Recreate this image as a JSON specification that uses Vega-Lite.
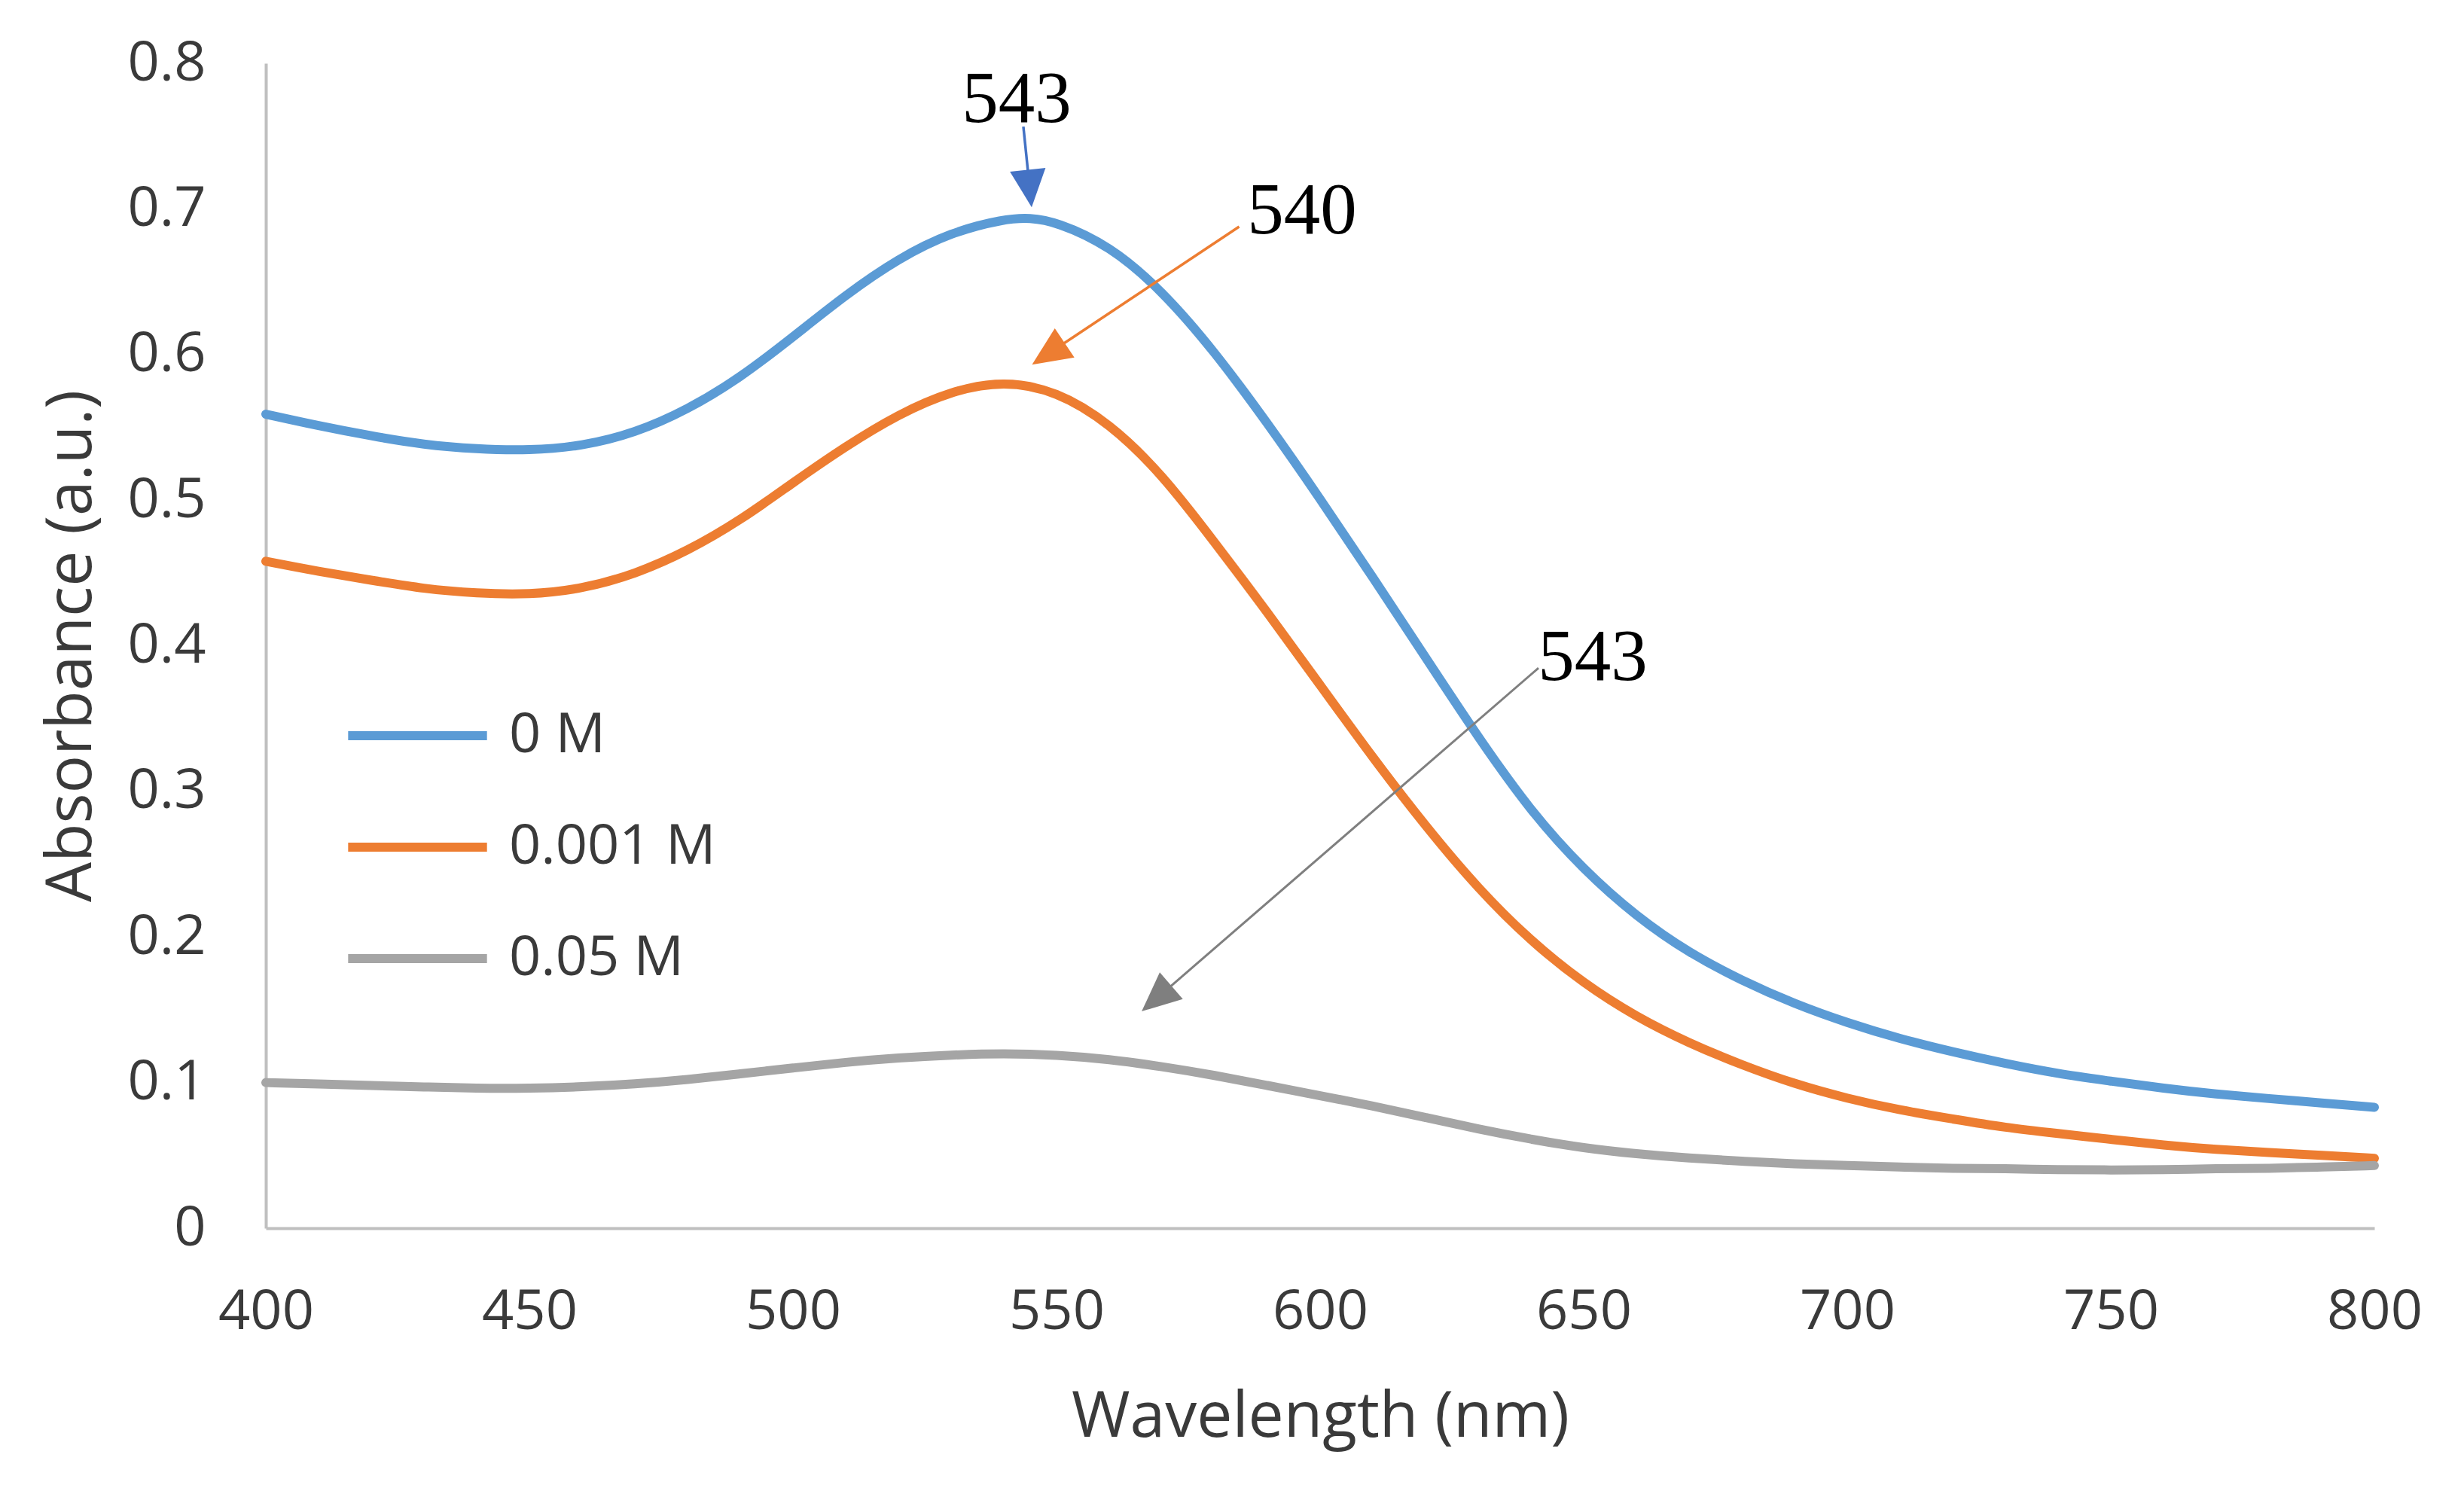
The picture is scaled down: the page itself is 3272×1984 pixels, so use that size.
{
  "$schema": "https://vega.github.io/schema/vega-lite/v6.json",
  "width": 2800,
  "height": 1547,
  "autosize": {"type": "none"},
  "padding": {"left": 353, "top": 84, "right": 119, "bottom": 353},
  "background": "white",
  "config": {
    "view": {"stroke": null},
    "font": "Open Sans",
    "axis": {
      "domainColor": "#bfbfbf",
      "domainWidth": 4,
      "ticks": false,
      "tickSize": 0,
      "grid": false,
      "labelFont": "Open Sans",
      "labelFontSize": 74,
      "labelColor": "#3a3a3a",
      "titleFont": "Open Sans",
      "titleFontSize": 84,
      "titleFontWeight": "normal",
      "titleColor": "#3a3a3a"
    }
  },
  "layer": [
    {
      "data": {
        "values": [
          {"wavelength": 400, "absorbance": 0.559, "series": "0 M"},
          {"wavelength": 410, "absorbance": 0.551, "series": "0 M"},
          {"wavelength": 420, "absorbance": 0.544, "series": "0 M"},
          {"wavelength": 430, "absorbance": 0.538, "series": "0 M"},
          {"wavelength": 440, "absorbance": 0.535, "series": "0 M"},
          {"wavelength": 450, "absorbance": 0.534, "series": "0 M"},
          {"wavelength": 460, "absorbance": 0.537, "series": "0 M"},
          {"wavelength": 470, "absorbance": 0.546, "series": "0 M"},
          {"wavelength": 480, "absorbance": 0.562, "series": "0 M"},
          {"wavelength": 490, "absorbance": 0.584, "series": "0 M"},
          {"wavelength": 500, "absorbance": 0.612, "series": "0 M"},
          {"wavelength": 510, "absorbance": 0.641, "series": "0 M"},
          {"wavelength": 520, "absorbance": 0.666, "series": "0 M"},
          {"wavelength": 530, "absorbance": 0.684, "series": "0 M"},
          {"wavelength": 540, "absorbance": 0.693, "series": "0 M"},
          {"wavelength": 545, "absorbance": 0.694, "series": "0 M"},
          {"wavelength": 550, "absorbance": 0.691, "series": "0 M"},
          {"wavelength": 560, "absorbance": 0.675, "series": "0 M"},
          {"wavelength": 570, "absorbance": 0.644, "series": "0 M"},
          {"wavelength": 580, "absorbance": 0.602, "series": "0 M"},
          {"wavelength": 590, "absorbance": 0.553, "series": "0 M"},
          {"wavelength": 600, "absorbance": 0.501, "series": "0 M"},
          {"wavelength": 610, "absorbance": 0.447, "series": "0 M"},
          {"wavelength": 620, "absorbance": 0.392, "series": "0 M"},
          {"wavelength": 630, "absorbance": 0.337, "series": "0 M"},
          {"wavelength": 640, "absorbance": 0.286, "series": "0 M"},
          {"wavelength": 650, "absorbance": 0.246, "series": "0 M"},
          {"wavelength": 660, "absorbance": 0.214, "series": "0 M"},
          {"wavelength": 670, "absorbance": 0.189, "series": "0 M"},
          {"wavelength": 680, "absorbance": 0.17, "series": "0 M"},
          {"wavelength": 690, "absorbance": 0.154, "series": "0 M"},
          {"wavelength": 700, "absorbance": 0.141, "series": "0 M"},
          {"wavelength": 710, "absorbance": 0.13, "series": "0 M"},
          {"wavelength": 720, "absorbance": 0.121, "series": "0 M"},
          {"wavelength": 730, "absorbance": 0.113, "series": "0 M"},
          {"wavelength": 740, "absorbance": 0.106, "series": "0 M"},
          {"wavelength": 750, "absorbance": 0.101, "series": "0 M"},
          {"wavelength": 760, "absorbance": 0.096, "series": "0 M"},
          {"wavelength": 770, "absorbance": 0.092, "series": "0 M"},
          {"wavelength": 780, "absorbance": 0.089, "series": "0 M"},
          {"wavelength": 790, "absorbance": 0.086, "series": "0 M"},
          {"wavelength": 800, "absorbance": 0.083, "series": "0 M"},
          {"wavelength": 400, "absorbance": 0.458, "series": "0.001 M"},
          {"wavelength": 410, "absorbance": 0.451, "series": "0.001 M"},
          {"wavelength": 420, "absorbance": 0.445, "series": "0.001 M"},
          {"wavelength": 430, "absorbance": 0.439, "series": "0.001 M"},
          {"wavelength": 440, "absorbance": 0.436, "series": "0.001 M"},
          {"wavelength": 450, "absorbance": 0.435, "series": "0.001 M"},
          {"wavelength": 460, "absorbance": 0.439, "series": "0.001 M"},
          {"wavelength": 470, "absorbance": 0.449, "series": "0.001 M"},
          {"wavelength": 480, "absorbance": 0.465, "series": "0.001 M"},
          {"wavelength": 490, "absorbance": 0.486, "series": "0.001 M"},
          {"wavelength": 500, "absorbance": 0.512, "series": "0.001 M"},
          {"wavelength": 510, "absorbance": 0.537, "series": "0.001 M"},
          {"wavelength": 520, "absorbance": 0.559, "series": "0.001 M"},
          {"wavelength": 530, "absorbance": 0.575, "series": "0.001 M"},
          {"wavelength": 540, "absorbance": 0.582, "series": "0.001 M"},
          {"wavelength": 550, "absorbance": 0.575, "series": "0.001 M"},
          {"wavelength": 560, "absorbance": 0.553, "series": "0.001 M"},
          {"wavelength": 570, "absorbance": 0.518, "series": "0.001 M"},
          {"wavelength": 580, "absorbance": 0.471, "series": "0.001 M"},
          {"wavelength": 590, "absorbance": 0.423, "series": "0.001 M"},
          {"wavelength": 600, "absorbance": 0.373, "series": "0.001 M"},
          {"wavelength": 610, "absorbance": 0.323, "series": "0.001 M"},
          {"wavelength": 620, "absorbance": 0.276, "series": "0.001 M"},
          {"wavelength": 630, "absorbance": 0.233, "series": "0.001 M"},
          {"wavelength": 640, "absorbance": 0.197, "series": "0.001 M"},
          {"wavelength": 650, "absorbance": 0.168, "series": "0.001 M"},
          {"wavelength": 660, "absorbance": 0.145, "series": "0.001 M"},
          {"wavelength": 670, "absorbance": 0.127, "series": "0.001 M"},
          {"wavelength": 680, "absorbance": 0.112, "series": "0.001 M"},
          {"wavelength": 690, "absorbance": 0.099, "series": "0.001 M"},
          {"wavelength": 700, "absorbance": 0.089, "series": "0.001 M"},
          {"wavelength": 710, "absorbance": 0.081, "series": "0.001 M"},
          {"wavelength": 720, "absorbance": 0.075, "series": "0.001 M"},
          {"wavelength": 730, "absorbance": 0.069, "series": "0.001 M"},
          {"wavelength": 740, "absorbance": 0.065, "series": "0.001 M"},
          {"wavelength": 750, "absorbance": 0.061, "series": "0.001 M"},
          {"wavelength": 760, "absorbance": 0.057, "series": "0.001 M"},
          {"wavelength": 770, "absorbance": 0.054, "series": "0.001 M"},
          {"wavelength": 780, "absorbance": 0.052, "series": "0.001 M"},
          {"wavelength": 790, "absorbance": 0.05, "series": "0.001 M"},
          {"wavelength": 800, "absorbance": 0.048, "series": "0.001 M"},
          {"wavelength": 400, "absorbance": 0.1, "series": "0.05 M"},
          {"wavelength": 410, "absorbance": 0.099, "series": "0.05 M"},
          {"wavelength": 420, "absorbance": 0.098, "series": "0.05 M"},
          {"wavelength": 430, "absorbance": 0.097, "series": "0.05 M"},
          {"wavelength": 440, "absorbance": 0.096, "series": "0.05 M"},
          {"wavelength": 450, "absorbance": 0.096, "series": "0.05 M"},
          {"wavelength": 460, "absorbance": 0.097, "series": "0.05 M"},
          {"wavelength": 470, "absorbance": 0.099, "series": "0.05 M"},
          {"wavelength": 480, "absorbance": 0.102, "series": "0.05 M"},
          {"wavelength": 490, "absorbance": 0.106, "series": "0.05 M"},
          {"wavelength": 500, "absorbance": 0.11, "series": "0.05 M"},
          {"wavelength": 510, "absorbance": 0.114, "series": "0.05 M"},
          {"wavelength": 520, "absorbance": 0.117, "series": "0.05 M"},
          {"wavelength": 530, "absorbance": 0.119, "series": "0.05 M"},
          {"wavelength": 540, "absorbance": 0.12, "series": "0.05 M"},
          {"wavelength": 550, "absorbance": 0.119, "series": "0.05 M"},
          {"wavelength": 560, "absorbance": 0.116, "series": "0.05 M"},
          {"wavelength": 570, "absorbance": 0.111, "series": "0.05 M"},
          {"wavelength": 580, "absorbance": 0.105, "series": "0.05 M"},
          {"wavelength": 590, "absorbance": 0.098, "series": "0.05 M"},
          {"wavelength": 600, "absorbance": 0.091, "series": "0.05 M"},
          {"wavelength": 610, "absorbance": 0.084, "series": "0.05 M"},
          {"wavelength": 620, "absorbance": 0.076, "series": "0.05 M"},
          {"wavelength": 630, "absorbance": 0.068, "series": "0.05 M"},
          {"wavelength": 640, "absorbance": 0.061, "series": "0.05 M"},
          {"wavelength": 650, "absorbance": 0.055, "series": "0.05 M"},
          {"wavelength": 660, "absorbance": 0.051, "series": "0.05 M"},
          {"wavelength": 670, "absorbance": 0.048, "series": "0.05 M"},
          {"wavelength": 680, "absorbance": 0.046, "series": "0.05 M"},
          {"wavelength": 690, "absorbance": 0.044, "series": "0.05 M"},
          {"wavelength": 700, "absorbance": 0.043, "series": "0.05 M"},
          {"wavelength": 710, "absorbance": 0.042, "series": "0.05 M"},
          {"wavelength": 720, "absorbance": 0.041, "series": "0.05 M"},
          {"wavelength": 730, "absorbance": 0.041, "series": "0.05 M"},
          {"wavelength": 740, "absorbance": 0.04, "series": "0.05 M"},
          {"wavelength": 750, "absorbance": 0.04, "series": "0.05 M"},
          {"wavelength": 760, "absorbance": 0.04, "series": "0.05 M"},
          {"wavelength": 770, "absorbance": 0.041, "series": "0.05 M"},
          {"wavelength": 780, "absorbance": 0.041, "series": "0.05 M"},
          {"wavelength": 790, "absorbance": 0.042, "series": "0.05 M"},
          {"wavelength": 800, "absorbance": 0.043, "series": "0.05 M"}
        ]
      },
      "mark": {"type": "line", "interpolate": "basis", "strokeWidth": 12, "strokeCap": "round", "strokeJoin": "round"},
      "encoding": {
        "x": {
          "field": "wavelength", "type": "quantitative",
          "scale": {"domain": [400, 800], "nice": false, "zero": false},
          "axis": {"values": [400, 450, 500, 550, 600, 650, 700, 750, 800], "labelPadding": 75, "titlePadding": 62, "labelFlush": false},
          "title": "Wavelength (nm)"
        },
        "y": {
          "field": "absorbance", "type": "quantitative",
          "scale": {"domain": [0, 0.8], "nice": false},
          "axis": {"values": [0, 0.1, 0.2, 0.3, 0.4, 0.5, 0.6, 0.7, 0.8], "format": ".1~f", "labelPadding": 80, "titlePadding": 30, "labelFlush": false},
          "title": "Absorbance (a.u.)"
        },
        "color": {
          "field": "series", "type": "nominal",
          "scale": {"domain": ["0 M", "0.001 M", "0.05 M"], "range": ["#5B9BD5", "#ED7D31", "#A5A5A5"]},
          "legend": {
            "title": null,
            "orient": "none",
            "legendX": 103,
            "legendY": 853,
            "padding": 0,
            "symbolType": "stroke",
            "symbolSize": 34000,
            "symbolStrokeWidth": 12,
            "clipHeight": 80,
            "rowPadding": 68,
            "labelOffset": 23,
            "labelFont": "Open Sans",
            "labelFontSize": 74,
            "labelColor": "#3a3a3a",
            "labelLimit": 0
          }
        }
      }
    },
    {
      "data": {"values": [{"wavelength": 543.71, "absorbance": 0.7565, "wavelength2": 544.91, "absorbance2": 0.714}]},
      "mark": {"type": "rule", "color": "#4472C4", "strokeWidth": 3.5},
      "encoding": {
        "x": {"field": "wavelength", "type": "quantitative", "title": "Wavelength (nm)"},
        "y": {"field": "absorbance", "type": "quantitative", "title": "Absorbance (a.u.)"},
        "x2": {"field": "wavelength2"},
        "y2": {"field": "absorbance2"}
      }
    },
    {
      "data": {"values": [{"wavelength": 584.64, "absorbance": 0.6878, "wavelength2": 548.44, "absorbance2": 0.6005}]},
      "mark": {"type": "rule", "color": "#ED7D31", "strokeWidth": 3.5},
      "encoding": {
        "x": {"field": "wavelength", "type": "quantitative", "title": "Wavelength (nm)"},
        "y": {"field": "absorbance", "type": "quantitative", "title": "Absorbance (a.u.)"},
        "x2": {"field": "wavelength2"},
        "y2": {"field": "absorbance2"}
      }
    },
    {
      "data": {"values": [{"wavelength": 641.43, "absorbance": 0.3847, "wavelength2": 568.96, "absorbance2": 0.1577}]},
      "mark": {"type": "rule", "color": "#7F7F7F", "strokeWidth": 3},
      "encoding": {
        "x": {"field": "wavelength", "type": "quantitative", "title": "Wavelength (nm)"},
        "y": {"field": "absorbance", "type": "quantitative", "title": "Absorbance (a.u.)"},
        "x2": {"field": "wavelength2"},
        "y2": {"field": "absorbance2"}
      }
    },
    {
      "data": {"values": [{"wavelength": 544.91, "absorbance": 0.714}]},
      "mark": {"type": "point", "shape": "M0,1L-0.95,-1L0.95,-1Z", "filled": true, "opacity": 1, "color": "#4472C4", "size": 2500, "angle": 354},
      "encoding": {
        "x": {"field": "wavelength", "type": "quantitative", "title": "Wavelength (nm)"},
        "y": {"field": "absorbance", "type": "quantitative", "title": "Absorbance (a.u.)"}
      }
    },
    {
      "data": {"values": [{"wavelength": 548.44, "absorbance": 0.6005}]},
      "mark": {"type": "point", "shape": "M0,1L-0.9,-1L0.9,-1Z", "filled": true, "opacity": 1, "color": "#ED7D31", "size": 2704, "angle": 56.3},
      "encoding": {
        "x": {"field": "wavelength", "type": "quantitative", "title": "Wavelength (nm)"},
        "y": {"field": "absorbance", "type": "quantitative", "title": "Absorbance (a.u.)"}
      }
    },
    {
      "data": {"values": [{"wavelength": 568.96, "absorbance": 0.1577}]},
      "mark": {"type": "point", "shape": "M0,1L-0.9,-1L0.9,-1Z", "filled": true, "opacity": 1, "color": "#7F7F7F", "size": 2704, "angle": 49.1},
      "encoding": {
        "x": {"field": "wavelength", "type": "quantitative", "title": "Wavelength (nm)"},
        "y": {"field": "absorbance", "type": "quantitative", "title": "Absorbance (a.u.)"}
      }
    },
    {
      "data": {
        "values": [
          {"wavelength": 542.43, "absorbance": 0.7596, "label": "543"},
          {"wavelength": 596.57, "absorbance": 0.683, "label": "540"},
          {"wavelength": 651.7, "absorbance": 0.3764, "label": "543"}
        ]
      },
      "mark": {"type": "text", "font": "Liberation Serif", "fontSize": 97, "color": "black", "align": "center", "baseline": "alphabetic"},
      "encoding": {
        "x": {"field": "wavelength", "type": "quantitative", "title": "Wavelength (nm)"},
        "y": {"field": "absorbance", "type": "quantitative", "title": "Absorbance (a.u.)"},
        "text": {"field": "label"}
      }
    }
  ]
}
